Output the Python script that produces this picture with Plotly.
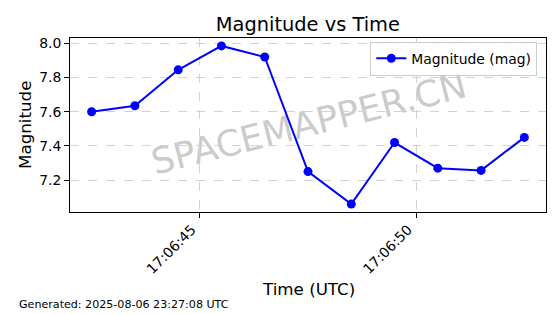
import plotly.graph_objects as go
import pandas as pd

# ---- data ----
times = ["2025-08-06 17:06:42.5", "2025-08-06 17:06:43.5", "2025-08-06 17:06:44.5",
         "2025-08-06 17:06:45.5", "2025-08-06 17:06:46.5", "2025-08-06 17:06:47.5",
         "2025-08-06 17:06:48.5", "2025-08-06 17:06:49.5", "2025-08-06 17:06:50.5",
         "2025-08-06 17:06:51.5", "2025-08-06 17:06:52.5"]
magnitudes = [7.60, 7.635, 7.845, 7.985, 7.92, 7.25, 7.06, 7.42, 7.27, 7.257, 7.45]
x_tick_vals = ["2025-08-06 17:06:45", "2025-08-06 17:06:50"]
x_tick_text = ["17:06:45", "17:06:50"]
y_tick_vals = [7.2, 7.4, 7.6, 7.8, 8.0]

title_text = "Magnitude vs Time"
x_label = "Time (UTC)"
y_label = "Magnitude"
series_name = "Magnitude (mag)"
footer = "Generated: 2025-08-06 23:27:08 UTC"
watermark = "SPACEMAPPER.CN"

FONT = "DejaVu Sans"

t = pd.to_datetime(times)
span = t.max() - t.min()
xr = [t.min() - span * 0.05, t.max() + span * 0.05]
ymin, ymax = min(magnitudes), max(magnitudes)
yr = [ymin - (ymax - ymin) * 0.05, ymax + (ymax - ymin) * 0.05]

fig = go.Figure()
fig.add_trace(go.Scatter(
    x=t, y=magnitudes, mode="lines+markers", name=series_name,
    line=dict(color="#0000ff", width=2),
    marker=dict(color="#0000ff", size=9),
))

L, R, T, B = 70, 14.3, 38.3, 101.7
W, H = 560, 314
pw, ph = W - L - R, H - T - B

axis_common = dict(
    showline=True, mirror=True, linecolor="black", linewidth=1,
    ticks="outside", ticklen=5, tickwidth=1, tickcolor="black",
    showgrid=True, gridcolor="#d2d2d2", griddash="dash", gridwidth=1,
    zeroline=False,
    tickfont=dict(family=FONT, size=13.9, color="black"),
)

fig.update_layout(
    width=W, height=H,
    margin=dict(l=L, r=R, t=T, b=B, pad=0),
    paper_bgcolor="white", plot_bgcolor="white",
    font=dict(family=FONT, color="black"),
    title=dict(text=title_text, x=(L + pw / 2) / W, xanchor="center",
               y=1 - 24 / H, yanchor="middle",
               font=dict(family=FONT, size=19.4, color="black")),
    xaxis=dict(range=xr, tickvals=pd.to_datetime(x_tick_vals), ticktext=x_tick_text,
               tickangle=-45, ticklabelshift=-8, ticklabelstandoff=-2, **axis_common),
    yaxis=dict(range=yr, tickvals=y_tick_vals, tickformat=".1f", **axis_common),
    showlegend=True,
    legend=dict(x=(537 - L) / pw, xanchor="right", y=1 - (42 - T) / ph, yanchor="top",
                bgcolor="rgba(255,255,255,0.8)", bordercolor="#cccccc", borderwidth=1,
                font=dict(family=FONT, size=13.9, color="black")),
)

fig.add_shape(
    type="rect", xref="paper", yref="paper", x0=0, x1=1, y0=0.025, y1=1.025,
    line=dict(width=0), fillcolor="rgba(0,0,0,0)", layer="between",
    label=dict(text=watermark, textangle=-14, textposition="middle center",
               font=dict(family=FONT, size=36, color="rgba(128,128,128,0.42)")),
)

fig.add_annotation(text=y_label, xref="paper", yref="paper",
                   x=(25 - L) / pw, y=0.5, xanchor="center", yanchor="middle",
                   textangle=-90, showarrow=False,
                   font=dict(family=FONT, size=16.7, color="black"))
fig.add_annotation(text=x_label, xref="paper", yref="paper",
                   x=0.5, y=(H - B - 289) / ph, xanchor="center", yanchor="middle",
                   showarrow=False, font=dict(family=FONT, size=16.7, color="black"))
fig.add_annotation(text=footer, xref="paper", yref="paper",
                   x=(17 - L) / pw, y=(H - B - 304.5) / ph, xanchor="left", yanchor="middle",
                   showarrow=False, font=dict(family=FONT, size=11.1, color="black"))

fig.write_html("out.html")
